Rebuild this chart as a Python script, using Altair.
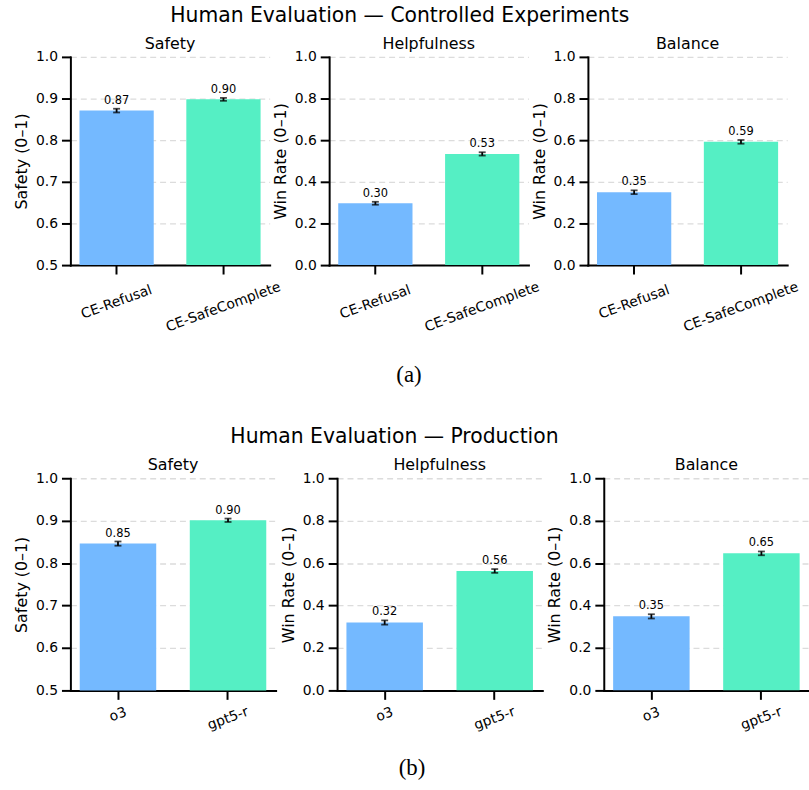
import altair as alt
import pandas as pd

# ---------------- data ----------------
models_ce = ["CE-Refusal", "CE-SafeComplete"]
models_prod = ["o3", "gpt5-r"]
metrics = ["Safety", "Helpfulness", "Balance"]
y_titles = ["Safety (0–1)", "Win Rate (0–1)", "Win Rate (0–1)"]

ce_safety = [0.871, 0.898]
ce_safety_err = [0.0045, 0.0035]
ce_help = [0.297, 0.534]
ce_help_err = [0.007, 0.008]
ce_balance = [0.350, 0.592]
ce_balance_err = [0.009, 0.009]

prod_safety = [0.846, 0.901]
prod_safety_err = [0.005, 0.004]
prod_help = [0.320, 0.563]
prod_help_err = [0.010, 0.009]
prod_balance = [0.349, 0.646]
prod_balance_err = [0.010, 0.009]

colors = ["#74b9ff", "#55efc4"]

FONT = "DejaVu Sans"


def panel(models, vals, errs, metric, ytitle, safety, width, height,
          label_pads, caption=None, cap_x=0, cap_y=0):
    df = pd.DataFrame({
        "model": models,
        "value": vals,
        "lo": [v - e for v, e in zip(vals, errs)],
        "hi": [v + e for v, e in zip(vals, errs)],
        "label": [f"{v:.2f}" for v in vals],
    })
    if safety:
        ydom = [0.5, 1.0]
        yvals = [0.5, 0.6, 0.7, 0.8, 0.9, 1.0]
    else:
        ydom = [0.0, 1.0]
        yvals = [0.0, 0.2, 0.4, 0.6, 0.8, 1.0]

    pad_cond = {
        "condition": {"test": f"datum.value === '{models[1]}'", "value": label_pads[1]},
        "value": label_pads[0],
    }
    xaxis_kw = dict(
        labelAngle=340, labelAlign="center", labelBaseline="middle",
        labelPadding=pad_cond, labelFontSize=14, labelFont=FONT, labelColor="black",
        tickSize=9, tickWidth=2, tickColor="black",
        domainColor="black", domainWidth=2, domainCap="square", grid=False,
    )
    if caption:
        xaxis_kw.update(
            title=caption, titleFont="Liberation Serif", titleFontSize=23,
            titleFontWeight="normal", titleColor="black",
            titleX=cap_x, titleY=cap_y, titleAlign="center", titleBaseline="middle",
        )
    else:
        xaxis_kw.update(title=None)
    xaxis = alt.Axis(**xaxis_kw)
    xscale = alt.Scale(domain=models, paddingInner=0.305, paddingOuter=0.085)

    yaxis = alt.Axis(
        title=ytitle, values=yvals, format=".1f",
        labelFontSize=14, labelFont=FONT, labelColor="black", labelPadding=4,
        tickSize=9, tickWidth=2, tickColor="black",
        domainColor="black", domainWidth=2, domainCap="square",
        grid=True, gridDash=[6, 4], gridColor="#dcdcdc", gridWidth=1.3,
        titleFontSize=16, titleFont=FONT, titleFontWeight="normal",
        titleColor="black", titlePadding=6,
    )
    yscale = alt.Scale(domain=ydom, nice=False, zero=False)

    base = alt.Chart(df).encode(
        x=alt.X("model:N", scale=xscale, axis=xaxis, sort=models)
    )
    bars = base.mark_bar(clip=True).encode(
        y=alt.Y("value:Q", scale=yscale, axis=yaxis),
        color=alt.Color("model:N", scale=alt.Scale(domain=models, range=colors), legend=None),
    )
    rule = base.mark_rule(color="black", strokeWidth=1.8).encode(
        y=alt.Y("lo:Q", title=ytitle), y2="hi:Q"
    )
    cap_lo = base.mark_tick(color="black", thickness=1.8, size=7).encode(
        y=alt.Y("lo:Q", title=ytitle)
    )
    cap_hi = base.mark_tick(color="black", thickness=1.8, size=7).encode(
        y=alt.Y("hi:Q", title=ytitle)
    )
    text = base.mark_text(
        baseline="alphabetic", dy=-5, fontSize=11.5, font=FONT, color="black"
    ).encode(y=alt.Y("hi:Q", title=ytitle), text="label:N")

    return alt.layer(bars, rule, cap_lo, cap_hi, text).properties(
        width=width, height=height,
        title=alt.TitleParams(metric, font=FONT, fontSize=16, fontWeight="normal",
                              color="black", baseline="alphabetic", offset=-15),
    )


ce_vals = [ce_safety, ce_help, ce_balance]
ce_errs = [ce_safety_err, ce_help_err, ce_balance_err]
prod_vals = [prod_safety, prod_help, prod_balance]
prod_errs = [prod_safety_err, prod_help_err, prod_balance_err]

top_panels = []
for i in range(3):
    top_panels.append(panel(
        models_ce, ce_vals[i], ce_errs[i], metrics[i], y_titles[i], i == 0,
        201, 210, (28, 33),
        caption="(a)" if i == 1 else None, cap_x=80, cap_y=110,
    ))
bottom_panels = []
for i in range(3):
    bottom_panels.append(panel(
        models_prod, prod_vals[i], prod_errs[i], metrics[i], y_titles[i], i == 0,
        207, 214, (15, 19),
        caption="(b)" if i == 1 else None, cap_x=75, cap_y=78,
    ))

top = alt.hconcat(
    *top_panels, spacing=60, bounds="flush",
    title=alt.TitleParams("Human Evaluation — Controlled Experiments", font=FONT,
                          fontSize=20.5, fontWeight="normal", color="black",
                          anchor="middle", baseline="alphabetic", offset=-6, dx=-7),
)
bottom = alt.hconcat(
    *bottom_panels, spacing=62, bounds="flush",
    title=alt.TitleParams("Human Evaluation — Production", font=FONT,
                          fontSize=20.5, fontWeight="normal", color="black",
                          anchor="middle", baseline="alphabetic", offset=-6, dx=-17),
)

chart = alt.vconcat(top, bottom, spacing=41).properties(
    padding={"left": 13, "top": 2, "right": 0, "bottom": 0},
    background="white",
).configure_view(stroke=None)

chart.save("out.html", embed_options={"renderer": "svg", "actions": False})
